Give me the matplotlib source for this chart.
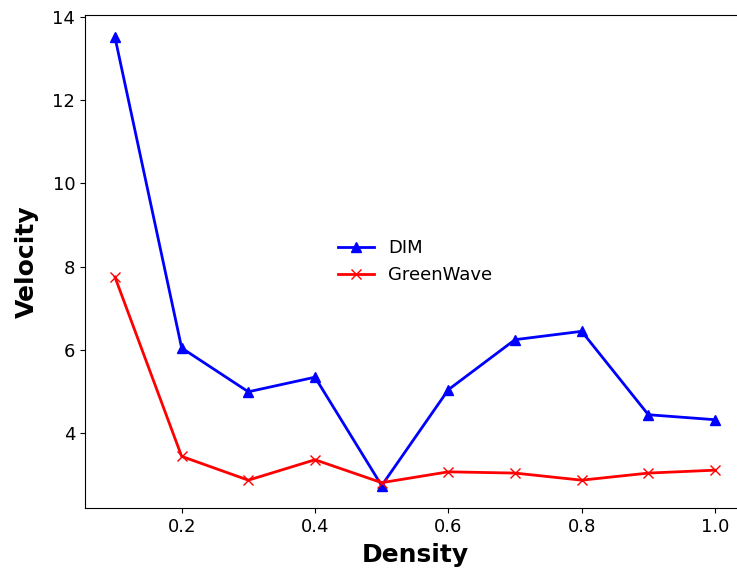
import matplotlib
matplotlib.use("Agg")
import matplotlib.pyplot as plt

density = [0.1, 0.2, 0.3, 0.4, 0.5, 0.6, 0.7, 0.8, 0.9, 1.0]
dim_velocity = [13.5, 6.05, 5.0, 5.35, 2.75, 5.05, 6.25, 6.45, 4.45, 4.33]
greenwave_velocity = [7.75, 3.45, 2.88, 3.37, 2.82, 3.08, 3.05, 2.88, 3.05, 3.12]

fig = plt.figure(figsize=(7.37, 5.73), dpi=100)
# the original picture is cropped on the right, so the axes run past the edge
ax = fig.add_axes([85 / 737, 65 / 573, 660 / 737, 493 / 573])

ax.plot(density, dim_velocity, color="blue", marker="^", markersize=7.5,
        linewidth=2, label="DIM")
ax.plot(density, greenwave_velocity, color="red", marker="x", markersize=7.5,
        linewidth=2, label="GreenWave")

ax.set_xlabel("Density", fontsize=18, fontweight="bold", labelpad=5)
ax.set_ylabel("Velocity", fontsize=18, fontweight="bold", labelpad=10)
ax.tick_params(labelsize=13)
ax.legend(loc="center", frameon=False, fontsize=13)

fig.savefig("out.png", dpi=100)
